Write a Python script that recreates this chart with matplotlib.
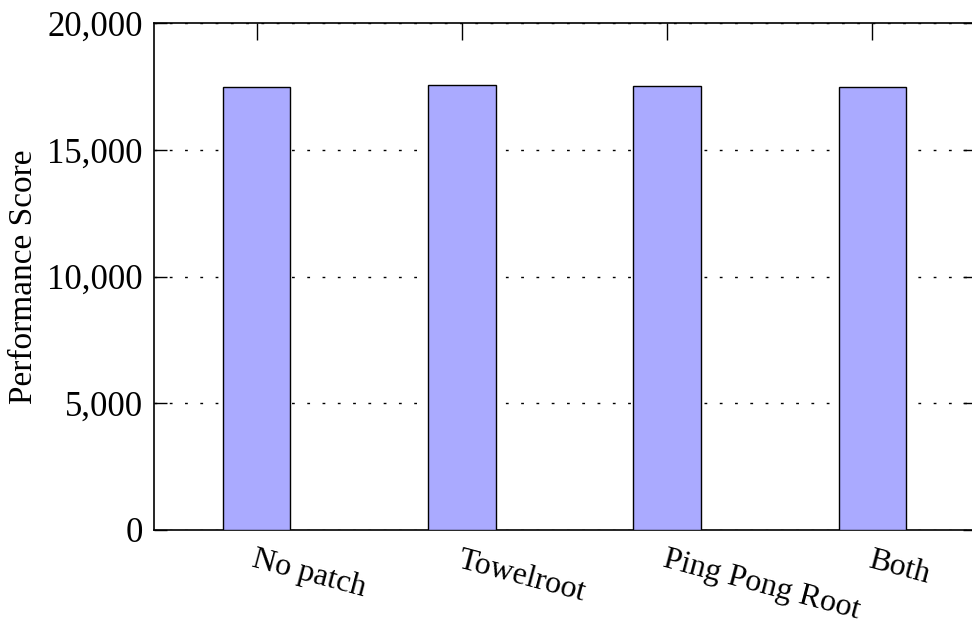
import matplotlib
matplotlib.use("Agg")
import matplotlib.pyplot as plt
import matplotlib.transforms as mtransforms
from matplotlib.ticker import FuncFormatter

plt.rcParams['font.family'] = ['Liberation Serif', 'DejaVu Serif']

# data
categories = ["No patch", "Towelroot", "Ping Pong Root", "Both"]
scores = [17460, 17540, 17520, 17460]
yticks = [0, 5000, 10000, 15000, 20000]

fig = plt.figure(figsize=(9.72, 6.27), dpi=100)
ax = fig.add_axes([154 / 972, 97 / 627, 821 / 972, 507 / 627])

x = list(range(len(categories)))
ax.bar(x, scores, width=0.33, color="#aaaaff", edgecolor="black",
       linewidth=1.0, zorder=3)

ax.set_xlim(-0.5, 3.5)
ax.set_ylim(0, 20000)
ax.set_yticks(yticks)
ax.yaxis.set_major_formatter(FuncFormatter(lambda v, p: f"{int(v):,}"))
ax.set_xticks(x)
ax.set_xticklabels(categories, rotation=-15, ha="left", va="top",
                   rotation_mode="anchor", fontsize=23)
offset = mtransforms.ScaledTranslation(-13 / 100, 0, fig.dpi_scale_trans)
for lab in ax.get_xticklabels():
    lab.set_transform(lab.get_transform() + offset)

ax.grid(axis="y", linestyle=(0, (2, 9)), color="black", linewidth=1.0,
        zorder=0)
ax.set_axisbelow(True)

ax.tick_params(axis="y", direction="in", length=9, width=1, right=True,
               labelsize=25, pad=8)
ax.tick_params(axis="x", direction="in", length=12, width=1, top=True,
               bottom=False, pad=11)
for s in ax.spines.values():
    s.set_linewidth(1.2)

ax.set_ylabel("Performance Score", fontsize=24, labelpad=6)

fig.savefig("out.png", dpi=100)
